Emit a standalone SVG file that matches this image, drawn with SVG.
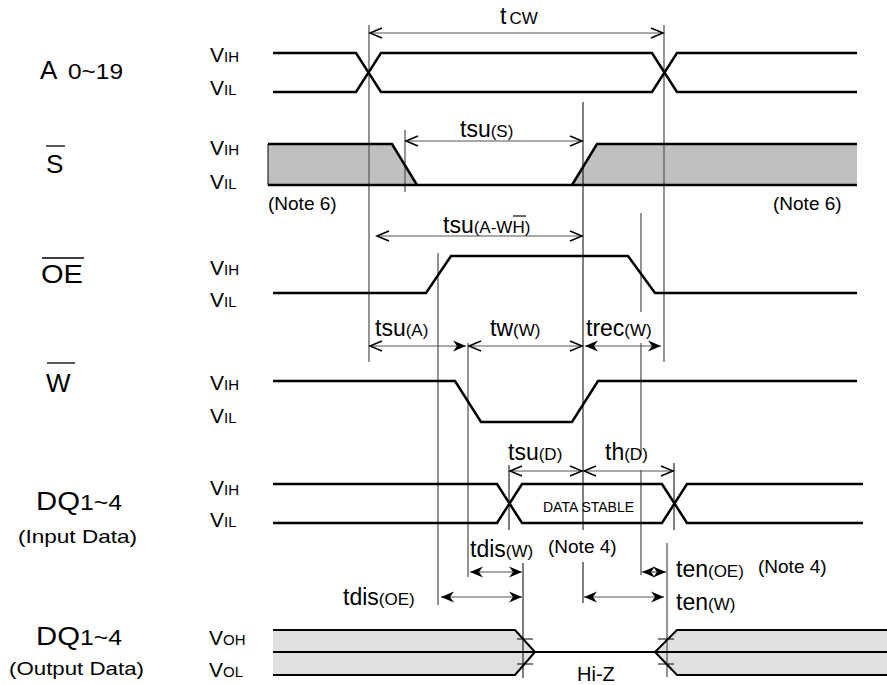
<svg xmlns="http://www.w3.org/2000/svg" width="887" height="685" viewBox="0 0 887 685">
<style>
text{font-family:"Liberation Sans",Arial,Helvetica,sans-serif;fill:#000}
.big{font-size:23px}
.lab{font-size:26px}
.sub{font-size:17px}
.v{font-size:21px}
.vs{font-size:15px}
.note{font-size:19px}
.sig{fill:none;stroke:#000;stroke-width:2.5;stroke-linejoin:miter}
.out{fill:none;stroke:#000;stroke-width:2}
.vl{stroke:#666;stroke-width:1.4;fill:none}
.vk{stroke:#000;stroke-width:1;fill:none}
.arr{stroke:#555;stroke-width:1.2;fill:none}
.ol{stroke:#000;stroke-width:1.3}
</style>
<defs>
<marker id="thin" markerUnits="userSpaceOnUse" markerWidth="16" markerHeight="14" refX="14" refY="7" orient="auto-start-reverse">
<path d="M2,2 L14,7 L2,12" fill="none" stroke="#000" stroke-width="1.5"/>
</marker>
<marker id="heavy" markerUnits="userSpaceOnUse" markerWidth="16" markerHeight="14" refX="14" refY="7" orient="auto-start-reverse">
<path d="M14,7 L1,1.5 L5,7 L1,12.5 Z" fill="#000"/>
</marker>
</defs>

<g id="labels-left">
<text x="40" y="79" class="lab">A</text>
<text x="68" y="79" style="font-size:22px" textLength="55" lengthAdjust="spacingAndGlyphs">0~19</text>
<text x="46" y="173" class="lab">S</text>
<line x1="46" y1="146" x2="65" y2="146" class="ol"/>
<text x="41" y="283" class="lab" textLength="42" lengthAdjust="spacingAndGlyphs">OE</text>
<line x1="42" y1="258" x2="84" y2="258" class="ol"/>
<text x="46" y="392" class="lab">W</text>
<line x1="47" y1="363" x2="75" y2="363" class="ol"/>
<text x="36" y="510" textLength="86" lengthAdjust="spacingAndGlyphs"><tspan class="lab">DQ</tspan><tspan style="font-size:22px">1~4</tspan></text>
<text x="18" y="543" class="note" textLength="119" lengthAdjust="spacingAndGlyphs">(Input Data)</text>
<text x="36" y="645" textLength="86" lengthAdjust="spacingAndGlyphs"><tspan class="lab">DQ</tspan><tspan style="font-size:22px">1~4</tspan></text>
<text x="9" y="675" class="note" textLength="135" lengthAdjust="spacingAndGlyphs">(Output Data)</text>
</g>

<g id="levels">
<text x="210" y="62"><tspan class="v">V</tspan><tspan class="vs">IH</tspan></text>
<text x="210" y="95"><tspan class="v">V</tspan><tspan class="vs">IL</tspan></text>
<text x="210" y="155"><tspan class="v">V</tspan><tspan class="vs">IH</tspan></text>
<text x="210" y="189"><tspan class="v">V</tspan><tspan class="vs">IL</tspan></text>
<text x="210" y="275"><tspan class="v">V</tspan><tspan class="vs">IH</tspan></text>
<text x="210" y="307"><tspan class="v">V</tspan><tspan class="vs">IL</tspan></text>
<text x="210" y="390"><tspan class="v">V</tspan><tspan class="vs">IH</tspan></text>
<text x="210" y="423"><tspan class="v">V</tspan><tspan class="vs">IL</tspan></text>
<text x="210" y="495"><tspan class="v">V</tspan><tspan class="vs">IH</tspan></text>
<text x="210" y="527"><tspan class="v">V</tspan><tspan class="vs">IL</tspan></text>
<text x="209" y="645"><tspan class="v">V</tspan><tspan class="vs">OH</tspan></text>
<text x="209" y="677"><tspan class="v">V</tspan><tspan class="vs">OL</tspan></text>
</g>

<g id="fills">
<polygon points="268,144 392,144 417,185 268,185" fill="#c0c0c0"/>
<polygon points="572,185 597,144 857,144 857,185" fill="#c0c0c0"/>
<polygon points="273,630 515,630 535,652 515,675 273,675" fill="#e0e0e0"/>
<polygon points="887,630 677,630 655,652 677,675 887,675" fill="#e0e0e0"/>
</g>

<g id="connectors">
<line x1="369" y1="25" x2="369" y2="362" class="vl"/>
<line x1="664" y1="25" x2="664" y2="362" class="vl"/>
<line x1="405" y1="130" x2="405" y2="192" class="vl"/>
<path d="M583,102 V530 M583,562 V603" class="vk"/>
<path d="M641,213 V312 M641,343 V455 M641,470 V575" class="vl"/>
<line x1="438" y1="253" x2="438" y2="605" class="vl"/>
<line x1="468" y1="343" x2="468" y2="577" class="vl"/>
<line x1="509" y1="465" x2="509" y2="530" class="vk"/>
<line x1="674" y1="463" x2="674" y2="530" class="vk"/>
<line x1="523" y1="563" x2="523" y2="678" class="vk"/>
<line x1="667" y1="543" x2="667" y2="677" class="vl"/>

<line x1="370" y1="33" x2="663" y2="33" class="arr" marker-start="url(#thin)" marker-end="url(#thin)"/>
<line x1="406" y1="141" x2="582" y2="141" class="arr" marker-start="url(#thin)" marker-end="url(#thin)"/>
<line x1="377" y1="236" x2="582" y2="236" class="arr" marker-start="url(#thin)" marker-end="url(#thin)"/>
<line x1="370" y1="346" x2="466" y2="346" class="arr" marker-start="url(#thin)" marker-end="url(#heavy)"/>
<line x1="469" y1="346" x2="582" y2="346" class="arr" marker-start="url(#thin)" marker-end="url(#thin)"/>
<line x1="585" y1="346" x2="661" y2="346" class="arr" marker-start="url(#heavy)" marker-end="url(#heavy)"/>
<line x1="510" y1="471" x2="582" y2="471" class="arr" marker-start="url(#thin)" marker-end="url(#thin)"/>
<line x1="584" y1="471" x2="673" y2="471" class="arr" marker-start="url(#thin)" marker-end="url(#thin)"/>
<line x1="470" y1="572" x2="522" y2="572" class="arr" marker-start="url(#heavy)" marker-end="url(#heavy)"/>
<line x1="441" y1="597" x2="522" y2="597" class="arr" marker-start="url(#heavy)" marker-end="url(#heavy)"/>
<line x1="642" y1="572" x2="666" y2="572" class="arr" marker-start="url(#heavy)" marker-end="url(#heavy)"/>
<line x1="584" y1="597" x2="664" y2="597" class="arr" marker-start="url(#heavy)" marker-end="url(#heavy)"/>
</g>

<g id="sig-A">
<path d="M273,53 H356 L381,92 H652 L677,53 H857" class="sig"/>
<path d="M273,92 H356 L381,53 H652 L677,92 H857" class="sig"/>
</g>
<g id="sig-S">
<line x1="268" y1="144" x2="268" y2="185" stroke="#000" stroke-width="1"/>
<path d="M268,144 H392 L417,185" class="sig"/>
<path d="M268,185 H857" class="sig"/>
<path d="M572,185 L597,144 H857" class="sig"/>
<text x="268" y="210" class="note">(Note 6)</text>
<text x="773" y="210" class="note">(Note 6)</text>
</g>
<g id="sig-OE">
<path d="M273,293 H426 L451,256 H628 L655,293 H857" class="sig"/>
</g>
<g id="sig-W">
<path d="M273,381 H455 L481,422 H572 L598,381 H857" class="sig"/>
</g>
<g id="sig-DQin">
<path d="M273,484 H497 L522,523 H662 L687,484 H863" class="sig"/>
<path d="M273,523 H497 L522,484 H662 L687,523 H863" class="sig"/>
<text x="543" y="512" style="font-size:14px">DATA STABLE</text>
</g>
<g id="sig-DQout">
<path d="M273,630 H515 L535,652 L515,675 H273" class="out"/>
<path d="M273,652 H887" class="out"/>
<path d="M887,630 H677 L655,652 L677,675 H887" class="out"/>
<path d="M517,639 H533 M517,664 H533 M658,639 H674 M658,664 H674" stroke="#000" stroke-width="1"/>
<text x="577" y="681" style="font-size:20px">Hi-Z</text>
</g>

<g id="timing-labels">
<text x="500" y="24"><tspan class="big">t</tspan><tspan class="sub" dx="3">CW</tspan></text>
<text x="460" y="137"><tspan class="big">tsu</tspan><tspan class="sub">(S)</tspan></text>
<text x="443" y="233"><tspan class="big">tsu</tspan><tspan class="sub">(A-WH)</tspan></text>
<line x1="513" y1="216" x2="526" y2="216" stroke="#000" stroke-width="1.2"/>
<text x="375" y="336"><tspan class="big">tsu</tspan><tspan class="sub">(A)</tspan></text>
<text x="490" y="336"><tspan class="big">tw</tspan><tspan class="sub">(W)</tspan></text>
<text x="586" y="336"><tspan class="big">trec</tspan><tspan class="sub">(W)</tspan></text>
<text x="508" y="460"><tspan class="big">tsu</tspan><tspan class="sub">(D)</tspan></text>
<text x="605" y="460"><tspan class="big">th</tspan><tspan class="sub">(D)</tspan></text>
<text x="470" y="557"><tspan class="big">tdis</tspan><tspan class="sub">(W)</tspan></text>
<text x="548" y="553" class="note">(Note 4)</text>
<text x="676" y="577"><tspan class="big">ten</tspan><tspan class="sub">(OE)</tspan></text>
<text x="758" y="573" class="note">(Note 4)</text>
<text x="676" y="610"><tspan class="big">ten</tspan><tspan class="sub">(W)</tspan></text>
<text x="343" y="605"><tspan class="big">tdis</tspan><tspan class="sub">(OE)</tspan></text>
</g>
</svg>
